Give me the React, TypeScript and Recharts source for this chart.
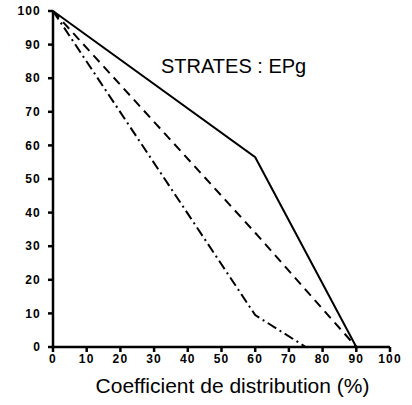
import { LineChart, Line, XAxis, YAxis } from 'recharts';

const xTicks = [0, 10, 20, 30, 40, 50, 60, 70, 80, 90, 100];
const yTicks = [0, 10, 20, 30, 40, 50, 60, 70, 80, 90, 100];

const solidLine = [
  { x: 0, y: 100 },
  { x: 60, y: 56.5 },
  { x: 90, y: 0 },
];

const dashedLine = [
  { x: 0, y: 100 },
  { x: 60, y: 34 },
  { x: 90, y: 0 },
];

const dashDotLine = [
  { x: 0, y: 100 },
  { x: 60, y: 9.5 },
  { x: 75, y: 0 },
];

const tickStyle = {
  fontFamily: '"Liberation Sans", Arial, sans-serif',
  fontSize: 12,
  fontWeight: 'bold',
  letterSpacing: 1.2,
  fill: '#000',
};

export default function App() {
  return (
    <div style={{ position: 'absolute', left: 0, top: 0, width: 412, height: 405, background: '#fff' }}>
      <LineChart width={412} height={405} margin={{ top: 11, right: 22, bottom: 0, left: 1 }}>
        <XAxis
          type="number"
          dataKey="x"
          domain={[0, 100]}
          ticks={xTicks}
          interval={0}
          allowDuplicatedCategory={false}
          height={58}
          stroke="#000"
          strokeWidth={2.5}
          tickSize={5}
          tick={tickStyle}
          tickMargin={2}
          label={{
            value: 'Coefficient de distribution (%)',
            position: 'insideBottom',
            offset: 12,
            dx: 11,
            style: { fontFamily: '"Liberation Sans", Arial, sans-serif', fontSize: 21, fill: '#000' },
          }}
        />
        <YAxis
          type="number"
          domain={[0, 100]}
          ticks={yTicks}
          interval={0}
          width={52}
          stroke="#000"
          strokeWidth={2.5}
          tickSize={5}
          tick={tickStyle}
          tickMargin={7}
        />
        <Line data={solidLine} dataKey="y" stroke="#000" strokeWidth={2} dot={false} isAnimationActive={false} />
        <Line data={dashedLine} dataKey="y" stroke="#000" strokeWidth={2} strokeDasharray="9 6" dot={false} isAnimationActive={false} />
        <Line data={dashDotLine} dataKey="y" stroke="#000" strokeWidth={2} strokeDasharray="10 4 2 4" dot={false} isAnimationActive={false} />
      </LineChart>
      <div
        style={{
          position: 'absolute',
          left: 161,
          top: 55,
          fontFamily: '"Liberation Sans", Arial, sans-serif',
          fontSize: 20,
          color: '#000',
          whiteSpace: 'nowrap',
        }}
      >
        STRATES : EPg
      </div>
    </div>
  );
}
